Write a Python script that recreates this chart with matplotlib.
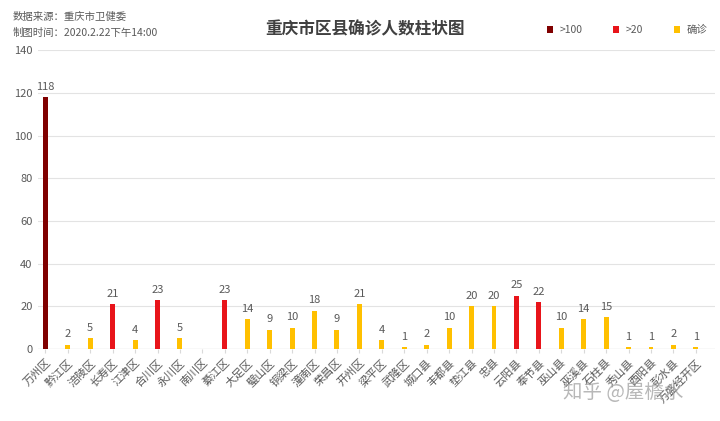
import numpy as np
import matplotlib.pyplot as plt

plt.rcParams['font.family'] = ['Noto Sans CJK SC', 'DejaVu Sans']

districts = ["万州区", "黔江区", "涪陵区", "长寿区", "江津区", "合川区", "永川区", "南川区",
             "綦江区", "大足区", "璧山区", "铜梁区", "潼南区", "荣昌区", "开州区", "梁平区",
             "武隆区", "城口县", "丰都县", "垫江县", "忠县", "云阳县", "奉节县", "巫山县",
             "巫溪县", "石柱县", "秀山县", "酉阳县", "彭水县", "万盛经开区"]
cases = [118, 2, 5, 21, 4, 23, 5, np.nan,
         23, 14, 9, 10, 18, 9, 21, 4,
         1, 2, 10, 20, 20, 25, 22, 10,
         14, 15, 1, 1, 2, 1]
# which series each district was drawn in: 0 = >100, 1 = >20, 2 = 确诊
group = [0, 2, 2, 1, 2, 1, 2, 2,
         1, 2, 2, 2, 2, 2, 2, 2,
         2, 2, 2, 2, 2, 1, 1, 2,
         2, 2, 2, 2, 2, 2]
series_names = [">100", ">20", "确诊"]
series_colors = ["#800000", "#E8141A", "#FFC000"]

fig = plt.figure(figsize=(7.2, 4.21), dpi=100)
ax = fig.add_axes([0.053, 0.171, 0.940, 0.710])

x = np.arange(len(districts))
vals = np.array(cases, dtype=float)
grp = np.array(group)

for g, (name, col) in enumerate(zip(series_names, series_colors)):
    h = np.where(grp == g, vals, np.nan)
    ax.bar(x, h, width=0.22, color=col, label=name, zorder=3)

for xi, v in zip(x, vals):
    if not np.isnan(v):
        ax.text(xi, v + 2.5, f"{int(v)}", ha='center', va='bottom',
                fontsize=8, color='#595959')

ax.set_ylim(0, 140)
ax.set_yticks(range(0, 141, 20))
ax.set_xlim(-0.32, 29.85)
ax.set_xticks(x)
ax.set_xticklabels(districts, rotation=45, ha='right', rotation_mode='anchor',
                   fontsize=8, color='#595959')
ax.tick_params(axis='y', length=0, labelsize=8, labelcolor='#595959', pad=4)
ax.tick_params(axis='x', length=3, color='#D9D9D9', pad=3)
ax.grid(axis='y', color='#E3E3E3', linewidth=0.8, zorder=0)
for s in ax.spines.values():
    s.set_visible(False)
ax.axhline(0, color='#D9D9D9', linewidth=0.9, zorder=2)

fig.text(0.507, 0.93, "重庆市区县确诊人数柱状图", ha='center', va='center',
         fontsize=12, color='#404040', fontweight='bold')
fig.text(0.017, 0.96, "数据来源：重庆市卫健委", ha='left', va='center',
         fontsize=7.5, color='#595959')
fig.text(0.017, 0.922, "制图时间：2020.2.22下午14:00", ha='left', va='center',
         fontsize=7.5, color='#595959')

handles, labels = ax.get_legend_handles_labels()
fig.legend(handles, labels, loc='center right', bbox_to_anchor=(0.995, 0.928),
           ncol=3, frameon=False, fontsize=7.5, handlelength=0.6, handleheight=0.6,
           columnspacing=2.95, handletextpad=0.6, labelcolor='#595959')

fig.text(0.865, 0.068, "知乎 @屋檐水", ha='center', va='center',
         fontsize=14, color='#A6A6A6', alpha=0.8)

plt.savefig("out.png", dpi=100)
plt.close()
